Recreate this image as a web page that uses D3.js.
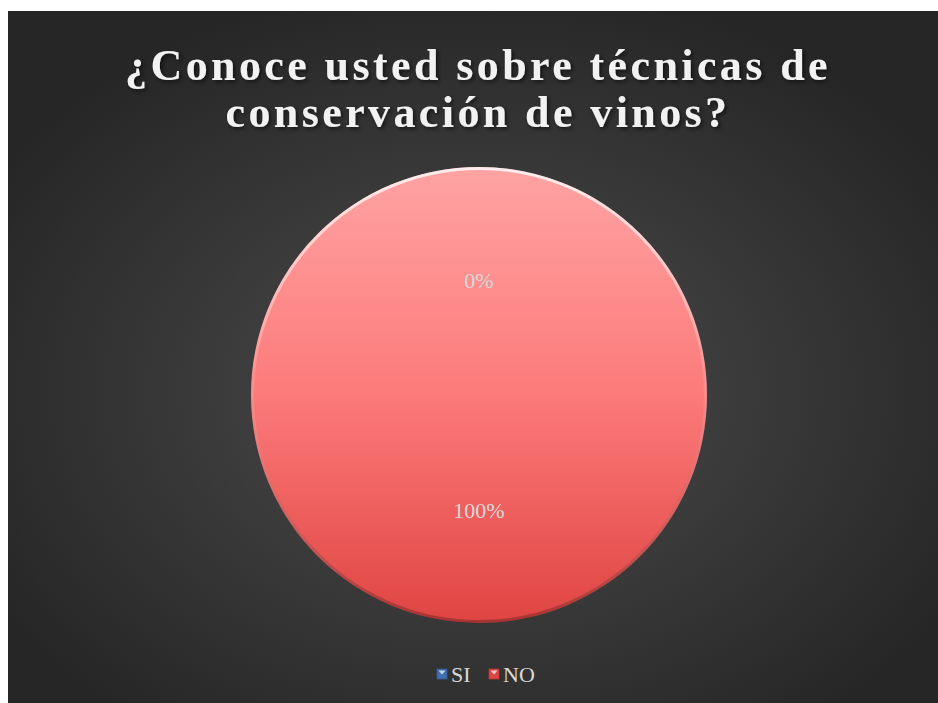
<!DOCTYPE html>
<html>
<head>
<meta charset="utf-8">
<script src="https://cdn.jsdelivr.net/npm/d3@7"></script>
<style>
  html, body { margin: 0; padding: 0; background: #fff; }
  svg { display: block; }
</style>
</head>
<body>
<div id="chart"></div>
<script>
// Chart data
const categories = ['SI', 'NO'];
const values = [0, 100];
const titleLines = ['¿Conoce usted sobre técnicas de', 'conservación de vinos?'];

const width = 938, height = 703;
const svg = d3.select('#chart').append('svg')
  .attr('width', width)
  .attr('height', height);

const defs = svg.append('defs');

// Dark background with a soft light spot in the middle
const bg = defs.append('radialGradient').attr('id', 'bg')
  .attr('cx', '0.5').attr('cy', '0.55').attr('r', '0.6');
bg.append('stop').attr('offset', '0%').attr('stop-color', '#4d4d4d');
bg.append('stop').attr('offset', '100%').attr('stop-color', '#262626');

// Slice fills: light at the top, darker at the bottom
const sliceColors = {
  SI: ['#9cb8e0', '#5b8bd0', '#3f6fb0'],
  NO: ['#ffa3a3', '#fc7a7a', '#df4542']
};
categories.forEach(c => {
  const g = defs.append('linearGradient').attr('id', 'fill-' + c)
    .attr('gradientUnits', 'userSpaceOnUse')
    .attr('x1', 0).attr('y1', -228).attr('x2', 0).attr('y2', 228);
  g.append('stop').attr('offset', '0%').attr('stop-color', sliceColors[c][0]);
  g.append('stop').attr('offset', '50%').attr('stop-color', sliceColors[c][1]);
  g.append('stop').attr('offset', '100%').attr('stop-color', sliceColors[c][2]);
});

// Bevel on the pie rim
const rim = defs.append('linearGradient').attr('id', 'rim')
  .attr('x1', 0).attr('y1', 0).attr('x2', 0).attr('y2', 1);
rim.append('stop').attr('offset', '0%').attr('stop-color', '#fff').attr('stop-opacity', 0.8);
rim.append('stop').attr('offset', '45%').attr('stop-color', '#fff').attr('stop-opacity', 0.15);
rim.append('stop').attr('offset', '100%').attr('stop-color', '#000').attr('stop-opacity', 0.25);

const shadow = defs.append('filter').attr('id', 'tshadow')
  .attr('x', '-10%').attr('y', '-20%').attr('width', '120%').attr('height', '150%');
shadow.append('feDropShadow').attr('dx', 2).attr('dy', 2).attr('stdDeviation', 2)
  .attr('flood-color', '#000').attr('flood-opacity', 0.6);

svg.append('rect')
  .attr('x', 8).attr('y', 11)
  .attr('width', width - 8).attr('height', height - 11)
  .attr('fill', 'url(#bg)');

// Title
svg.append('g')
  .selectAll('text')
  .data(titleLines)
  .join('text')
  .attr('x', 478)
  .attr('y', (d, i) => 80 + i * 47)
  .attr('text-anchor', 'middle')
  .attr('font-family', 'Liberation Serif, DejaVu Serif, serif')
  .attr('font-weight', 'bold')
  .attr('font-size', 44)
  .attr('letter-spacing', 3.4)
  .attr('fill', '#f2f2f2')
  .attr('filter', 'url(#tshadow)')
  .text(d => d);

// Pie
const cx = 479, cy = 395, radius = 228;
const pie = d3.pie().sort(null).value(d => d.value);
const arcs = pie(categories.map((c, i) => ({ cat: c, value: values[i] })));
const arc = d3.arc().innerRadius(0).outerRadius(radius);
const labelArc = d3.arc().innerRadius(115).outerRadius(115);
const total = d3.sum(values);

const pg = svg.append('g').attr('transform', `translate(${cx},${cy})`);

pg.selectAll('path.slice')
  .data(arcs)
  .join('path')
  .attr('class', 'slice')
  .attr('d', arc)
  .attr('fill', d => `url(#fill-${d.data.cat})`);

pg.append('circle')
  .attr('r', radius - 1.5)
  .attr('fill', 'none')
  .attr('stroke', 'url(#rim)')
  .attr('stroke-width', 3);

pg.selectAll('text.label')
  .data(arcs)
  .join('text')
  .attr('class', 'label')
  .attr('transform', d => `translate(${labelArc.centroid(d)})`)
  .attr('text-anchor', 'middle')
  .attr('dy', '0.35em')
  .attr('font-family', 'Liberation Serif, DejaVu Serif, serif')
  .attr('font-size', 22)
  .attr('fill', '#d9d9d9')
  .text(d => d3.format('.0%')(d.data.value / total));

// Legend
const legendX = d3.scalePoint().domain(categories).range([437, 489]);
const lg = svg.append('g');
const item = lg.selectAll('g')
  .data(categories)
  .join('g')
  .attr('transform', c => `translate(${legendX(c)},674)`);

item.append('rect')
  .attr('x', 0).attr('y', -5)
  .attr('width', 10).attr('height', 10)
  .attr('fill', c => sliceColors[c][2])
  .attr('stroke', c => d3.color(sliceColors[c][2]).darker(0.6))
  .attr('stroke-width', 0.8);
item.append('path')
  .attr('d', 'M1.5,-3.5 L8.5,-3.5 L5,0.5 Z')
  .attr('fill', '#fff')
  .attr('fill-opacity', 0.7);
item.append('text')
  .attr('x', 14).attr('y', 0)
  .attr('dy', '0.35em')
  .attr('font-family', 'Liberation Serif, DejaVu Serif, serif')
  .attr('font-size', 22)
  .attr('fill', '#d9d9d9')
  .text(c => c);
</script>
</body>
</html>
